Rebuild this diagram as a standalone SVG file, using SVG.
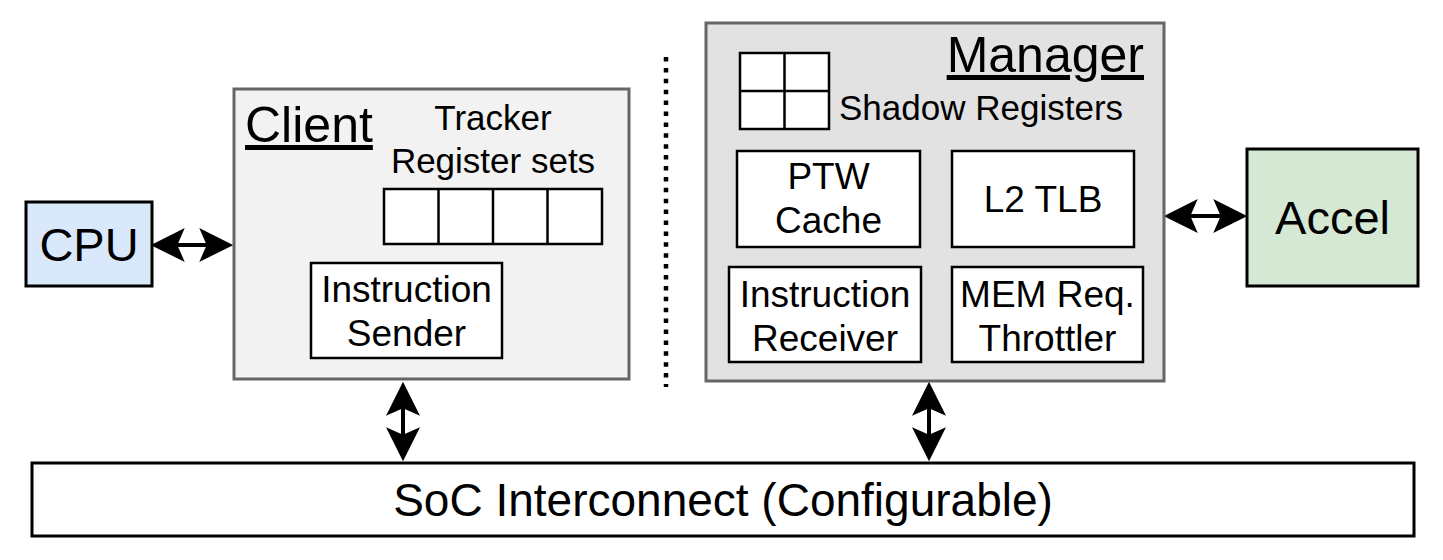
<svg xmlns="http://www.w3.org/2000/svg" width="1443" height="560" viewBox="0 0 1443 560">
<style>
text{font-family:"Liberation Sans",Arial,Helvetica,sans-serif;fill:#000}
.box{fill:#fff;stroke:#000;stroke-width:2.5}
.grp{stroke:#666;stroke-width:3}
.lbl{font-size:37px;text-anchor:middle}
.sm{font-size:35px}
.big{font-size:50px;text-decoration:underline}
.conn{stroke:#000;stroke-width:4;fill:none;marker-start:url(#ah);marker-end:url(#ah)}
</style>
<defs>
<marker id="ah" markerUnits="userSpaceOnUse" markerWidth="34" markerHeight="34" viewBox="0 0 32 32" refX="12" refY="16" orient="auto-start-reverse">
<path d="M0,0 L32,16 L0,32 L7,16 Z" fill="#000"/>
</marker>
</defs>
<rect width="1443" height="560" fill="#fff"/>
<g id="connectors">
<line class="conn" x1="172" y1="245" x2="212" y2="245"/>
<line class="conn" x1="1185" y1="216" x2="1226" y2="216"/>
<line class="conn" x1="403" y1="403" x2="403" y2="440"/>
<line class="conn" x1="929" y1="403" x2="929" y2="440"/>
<line x1="666" y1="57" x2="666" y2="387" stroke="#000" stroke-width="4.5" stroke-dasharray="4.5 6.4"/>
</g>
<g id="cpu">
<rect x="26" y="202" width="126" height="84" fill="#dae8fc" stroke="#000" stroke-width="3"/>
<text x="89" y="261" font-size="47" text-anchor="middle">CPU</text>
</g>
<g id="client">
<rect class="grp" x="234" y="89" width="395" height="290" fill="#f2f2f2"/>
<text class="big" x="245" y="142">Client</text>
</g>
<g id="tracker-registers">
<text class="sm" x="493" y="130" text-anchor="middle">Tracker</text>
<text class="sm" x="493" y="173" text-anchor="middle">Register sets</text>
<rect class="box" x="384" y="189" width="218" height="55"/>
<path d="M438.5,189V244M493,189V244M547.5,189V244" stroke="#000" stroke-width="2.5"/>
</g>
<g id="instruction-sender">
<rect class="box" x="311" y="263" width="191" height="95"/>
<text class="lbl" x="406.5" y="302">Instruction</text>
<text class="lbl" x="406.5" y="346">Sender</text>
</g>
<g id="manager">
<rect class="grp" x="706" y="23" width="458" height="358" fill="#e2e2e2"/>
<text class="big" x="1144" y="72" text-anchor="end">Manager</text>
</g>
<g id="shadow-registers">
<rect class="box" x="740" y="53" width="89" height="76"/>
<path d="M784.5,53V129M740,91H829" stroke="#000" stroke-width="2.5"/>
<text class="sm" x="839" y="120">Shadow Registers</text>
</g>
<g id="ptw-cache">
<rect class="box" x="737" y="151" width="183" height="96"/>
<text class="lbl" x="828.5" y="189">PTW</text>
<text class="lbl" x="828.5" y="233">Cache</text>
</g>
<g id="l2-tlb">
<rect class="box" x="952" y="151" width="182" height="96"/>
<text class="lbl" x="1043" y="212">L2 TLB</text>
</g>
<g id="instruction-receiver">
<rect class="box" x="729" y="267" width="192" height="95"/>
<text class="lbl" x="825" y="307">Instruction</text>
<text class="lbl" x="825" y="351">Receiver</text>
</g>
<g id="mem-req-throttler">
<rect class="box" x="952" y="267" width="191" height="95"/>
<text class="lbl" x="1047.5" y="307">MEM Req.</text>
<text class="lbl" x="1047.5" y="351">Throttler</text>
</g>
<g id="accel">
<rect x="1247" y="149" width="171" height="137" fill="#d5e8d4" stroke="#000" stroke-width="3"/>
<text x="1332.5" y="234" font-size="47" text-anchor="middle">Accel</text>
</g>
<g id="soc-interconnect">
<rect x="32" y="463" width="1382" height="73" fill="#fff" stroke="#000" stroke-width="3"/>
<text x="723" y="516" font-size="46" text-anchor="middle">SoC Interconnect (Configurable)</text>
</g>
</svg>
